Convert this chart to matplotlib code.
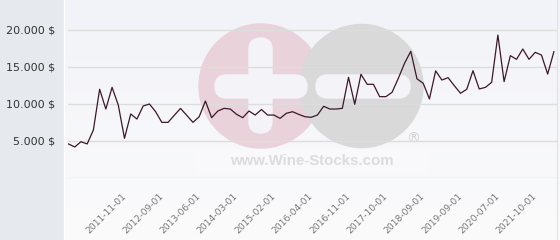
import matplotlib.pyplot as plt
import numpy as np
from matplotlib.patches import Circle, FancyBboxPatch, Rectangle

# price series, one value per category
prices = [4600, 4190, 4900, 4600, 6490, 11990, 9320, 12250, 9860, 5360,
          8650, 7970, 9730, 10000, 8960, 7520, 7520, 8470, 9410, 8470,
          7520, 8280, 10400, 8150, 9050, 9410, 9320, 8610, 8150, 9050,
          8510, 9250, 8510, 8510, 8060, 8740, 8960, 8600, 8280, 8200,
          8510, 9690, 9320, 9320, 9410, 13610, 9960, 14010, 12660, 12660,
          10990, 10990, 11580, 13470, 15500, 17120, 13400, 12800, 10680, 14480,
          13240, 13560, 12470, 11450, 11990, 14500, 12030, 12250, 12930, 19320,
          13020, 16530, 16040, 17430, 16040, 16980, 16620, 14050, 17070]
tick_pos = [9, 15, 21, 27, 33, 39, 45, 51, 57, 63, 69, 75]
tick_labels = ['2011-11-01', '2012-09-01', '2013-06-01', '2014-03-01',
               '2015-02-01', '2016-04-01', '2016-11-01', '2017-10-01',
               '2018-09-01', '2019-09-01', '2020-07-01', '2021-10-01']
y_ticks = [0, 5000, 10000, 15000, 20000]

W, H = 560, 240
fig = plt.figure(figsize=(W / 100, H / 100), dpi=100)

# background in pixel coords
bg = fig.add_axes([0, 0, 1, 1])
bg.set_xlim(0, W)
bg.set_ylim(H, 0)
bg.axis('off')
top = np.array([242, 243, 248]) / 255
bot = np.array([251, 251, 252]) / 255
t = np.linspace(0, 1, 100)[:, None, None]
grad = top * (1 - t) + bot * t
bg.imshow(grad, extent=[63, W, H, 0], aspect='auto', zorder=0)
bg.add_patch(Rectangle((0, 0), 63, H, color='#e6e9ed', zorder=1))
bg.plot([63.5, 63.5], [0, H], color='white', lw=1, zorder=2)
bg.plot([557, 557], [0, H], color='#e2e2e6', lw=0.8, zorder=2)

# watermark
bg.add_patch(Circle((261, 86), 62, color='#e9d2d9', zorder=3))
bg.add_patch(Circle((361.5, 86), 61.5, color='#d9d9da', zorder=4))
for x0, y0, w, h in [(215, 75, 92, 23), (249, 38, 23, 95), (316, 75, 94, 23)]:
    bg.add_patch(FancyBboxPatch((x0, y0), w, h,
                                boxstyle='round,pad=0,rounding_size=11.5',
                                color='#f4f4f8', zorder=5))
bg.add_patch(Rectangle((197, 149), 230, 23, color='white', alpha=0.25, zorder=5))
bg.text(312, 161, 'www.Wine-Stocks.com', fontsize=10.8, fontweight='bold',
        family='Liberation Sans', color='#dcdcdc', ha='center', va='center', zorder=6)
bg.text(413, 139, '®', fontsize=10, color='#d2d2d2', ha='center', va='center', zorder=6)

# chart
ax = fig.add_axes([68 / W, 62 / H, (557 - 68) / W, 178 / H])
ax.patch.set_alpha(0)
x = np.arange(len(prices))
ax.plot(x, prices, color='#3a1828', lw=0.9, zorder=3)
ax.set_xlim(-0.08, 78.5)
ax.set_ylim(0, 24054)

ax.set_yticks(y_ticks)
ax.set_yticklabels([''] + [f'{v:,.0f}'.replace(',', '.') + ' $' for v in y_ticks[1:]])
ax.grid(axis='y', color='#dddddd', lw=1)
ax.tick_params(axis='y', length=0, pad=9.5, labelsize=8, labelcolor='#333333')

ax.set_xticks(tick_pos)
ax.set_xticklabels(tick_labels, rotation=45, ha='right', va='center',
                   rotation_mode='anchor', fontsize=6.6, color='#777777')
ax.tick_params(axis='x', length=0, pad=12)

for s in ax.spines.values():
    s.set_visible(False)

fig.savefig('out.png', dpi=100)
